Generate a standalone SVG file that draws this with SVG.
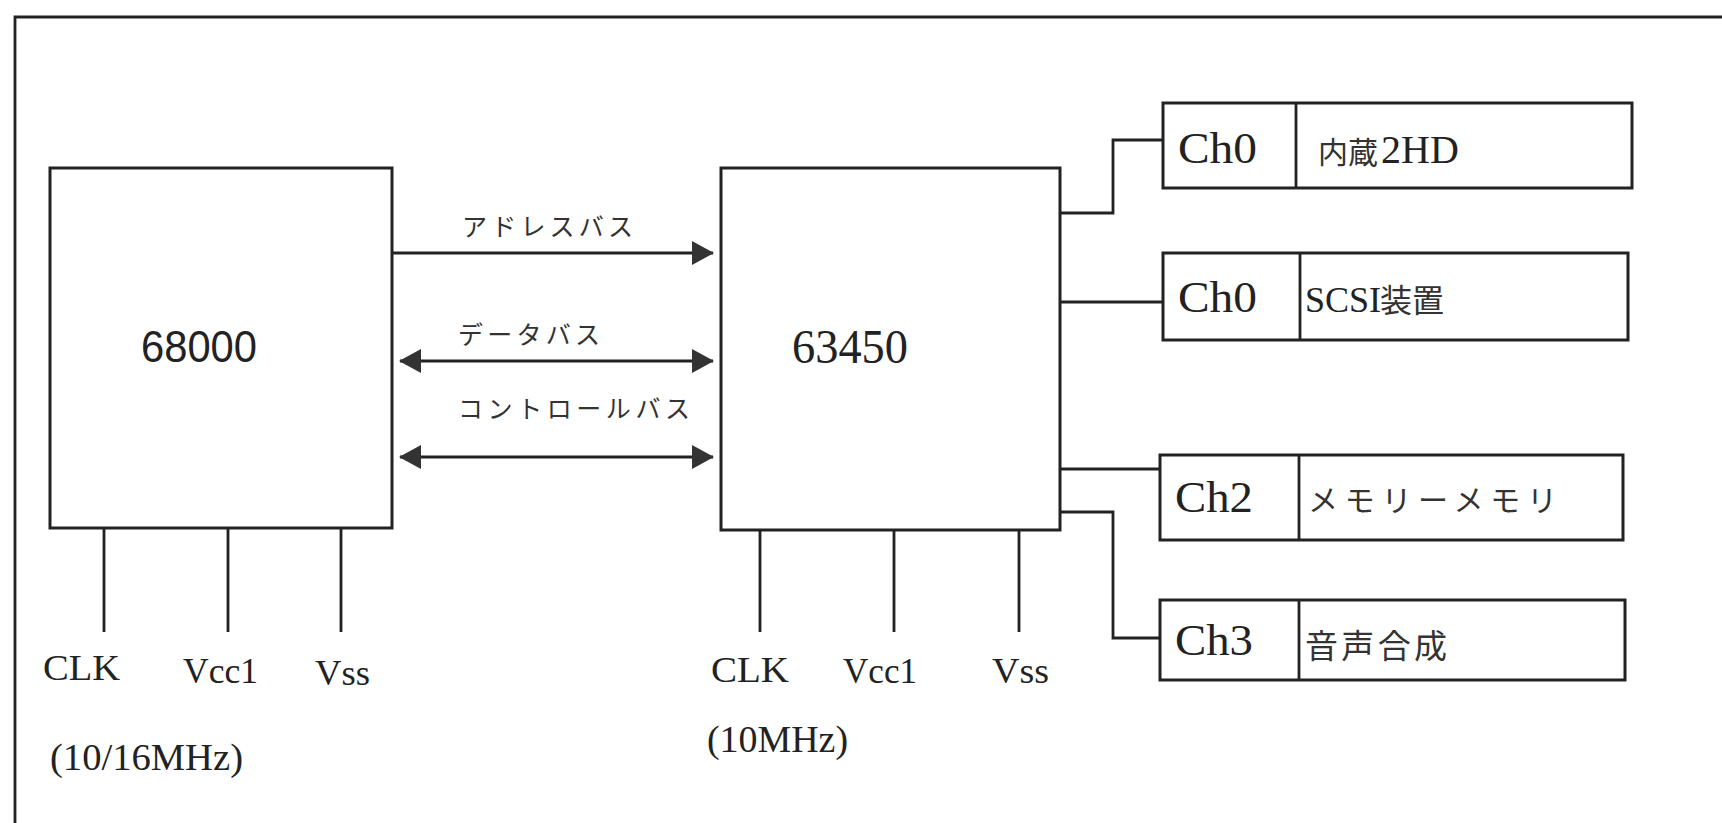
<svg xmlns="http://www.w3.org/2000/svg" width="1722" height="823" viewBox="0 0 1722 823">
<style>
.ln{stroke:#222;stroke-width:2.8;fill:none}
.bx{stroke:#222;stroke-width:3;fill:#fff}
.sf{font-family:"Liberation Serif","DejaVu Serif",serif;fill:#222}
.ss{font-family:"Liberation Sans","DejaVu Sans",sans-serif;fill:#222}
.jp{font-family:"Noto Sans CJK JP","Noto Sans CJK SC",sans-serif;fill:#333}
</style>
<defs>
<marker id="ah" viewBox="0 0 22 24" refX="21" refY="12" markerWidth="22" markerHeight="24" markerUnits="userSpaceOnUse" orient="auto-start-reverse">
<path d="M0,0 L22,12 L0,24 Z" fill="#333"/>
</marker>
</defs>
<rect width="1722" height="823" fill="#fff"/>
<g id="frame">
<path class="ln" d="M15,823 V17 H1722" stroke-width="3"/>
</g>
<g id="cpu68000">
<rect class="bx" x="50" y="168" width="342" height="360"/>
<text class="ss" x="141" y="362" font-size="45" textLength="116" lengthAdjust="spacingAndGlyphs">68000</text>
</g>
<g id="dmac63450">
<rect class="bx" x="721" y="168" width="339" height="362"/>
<text class="sf" x="792" y="363" font-size="48" textLength="116" lengthAdjust="spacingAndGlyphs">63450</text>
</g>
<g id="ch0-2hd">
<rect class="bx" x="1163" y="103" width="469" height="85"/>
<line class="ln" x1="1296" y1="103" x2="1296" y2="188"/>
<text class="sf" x="1178" y="163" font-size="44" textLength="79" lengthAdjust="spacingAndGlyphs">Ch0</text>
<text x="1318" y="163"><tspan class="jp" font-size="30">内蔵</tspan><tspan class="sf" x="1381" font-size="40">2HD</tspan></text>
</g>
<g id="ch0-scsi">
<rect class="bx" x="1163" y="253" width="465" height="87"/>
<line class="ln" x1="1300" y1="253" x2="1300" y2="340"/>
<text class="sf" x="1178" y="312" font-size="44" textLength="79" lengthAdjust="spacingAndGlyphs">Ch0</text>
<text x="1305" y="312"><tspan class="sf" font-size="36">SCSI</tspan><tspan class="jp" x="1380" font-size="32">装置</tspan></text>
</g>
<g id="ch2-mem">
<rect class="bx" x="1160" y="455" width="463" height="85"/>
<line class="ln" x1="1299" y1="455" x2="1299" y2="540"/>
<text class="sf" x="1175" y="512" font-size="44" textLength="78" lengthAdjust="spacingAndGlyphs">Ch2</text>
<text class="jp" x="1308" y="511" font-size="30" textLength="249" lengthAdjust="spacing">メモリーメモリ</text>
</g>
<g id="ch3-voice">
<rect class="bx" x="1160" y="600" width="465" height="80"/>
<line class="ln" x1="1299" y1="600" x2="1299" y2="680"/>
<text class="sf" x="1175" y="655" font-size="44" textLength="78" lengthAdjust="spacingAndGlyphs">Ch3</text>
<text class="jp" x="1305" y="658" font-size="33" textLength="142" lengthAdjust="spacing">音声合成</text>
</g>
<g id="pins68000">
<text class="sf" x="43" y="680" font-size="36" textLength="77" lengthAdjust="spacingAndGlyphs">CLK</text>
<text class="sf" x="183" y="683" font-size="36" textLength="75" lengthAdjust="spacingAndGlyphs">Vcc1</text>
<text class="sf" x="315" y="685" font-size="36" textLength="55" lengthAdjust="spacingAndGlyphs">Vss</text>
<text class="sf" x="50" y="770" font-size="37" textLength="193" lengthAdjust="spacingAndGlyphs">(10/16MHz)</text>
</g>
<g id="pins63450">
<text class="sf" x="711" y="682" font-size="36" textLength="78" lengthAdjust="spacingAndGlyphs">CLK</text>
<text class="sf" x="843" y="683" font-size="36" textLength="74" lengthAdjust="spacingAndGlyphs">Vcc1</text>
<text class="sf" x="992" y="683" font-size="36" textLength="57" lengthAdjust="spacingAndGlyphs">Vss</text>
<text class="sf" x="707" y="752" font-size="37" textLength="141" lengthAdjust="spacingAndGlyphs">(10MHz)</text>
</g>
<g id="connectors">
<line class="ln" x1="393" y1="253" x2="713" y2="253" marker-end="url(#ah)"/>
<line class="ln" x1="400" y1="361" x2="713" y2="361" marker-start="url(#ah)" marker-end="url(#ah)"/>
<line class="ln" x1="400" y1="457" x2="713" y2="457" marker-start="url(#ah)" marker-end="url(#ah)"/>
<text class="jp" x="462" y="236" font-size="25" textLength="171" lengthAdjust="spacing">アドレスバス</text>
<text class="jp" x="458" y="344" font-size="25" textLength="142" lengthAdjust="spacing">データバス</text>
<text class="jp" x="458" y="418" font-size="25" textLength="232" lengthAdjust="spacing">コントロールバス</text>
<path class="ln" d="M1060,213 H1113 V140 H1163"/>
<path class="ln" d="M1060,302 H1163"/>
<path class="ln" d="M1060,469 H1160"/>
<path class="ln" d="M1060,512 H1113 V638 H1160"/>
<path class="ln" d="M104,528 V632 M228,528 V632 M341,528 V632"/>
<path class="ln" d="M760,530 V632 M894,530 V632 M1019,530 V632"/>
</g>
</svg>
